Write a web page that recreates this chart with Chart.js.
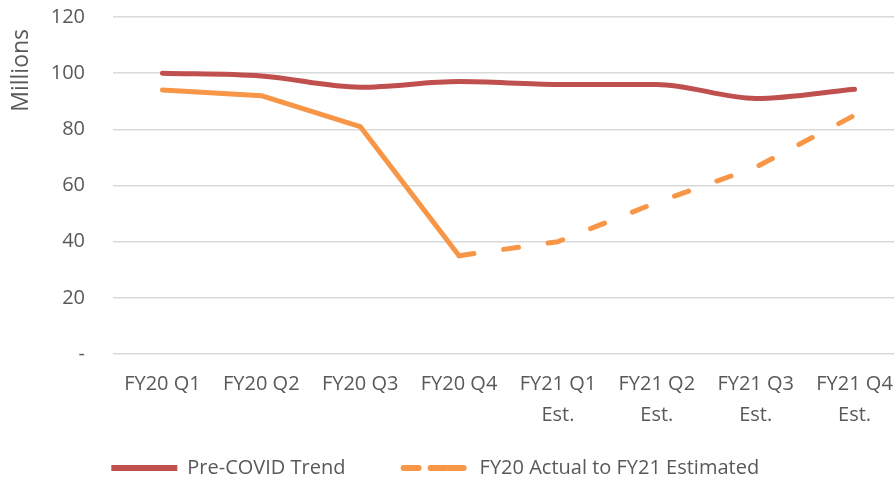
<!DOCTYPE html>
<html><head><meta charset="utf-8">
<script src="https://cdn.jsdelivr.net/npm/chart.js@4"></script>
<style>html,body{margin:0;padding:0;overflow:hidden;background:#fff}#wrap{width:904px;height:478px}</style>
</head><body><div id="wrap"><canvas id="c" width="904" height="478"></canvas></div>
<script>
const categories = [["FY20 Q1"],["FY20 Q2"],["FY20 Q3"],["FY20 Q4"],["FY21 Q1","Est."],["FY21 Q2","Est."],["FY21 Q3","Est."],["FY21 Q4","Est."]];
const preCovid = [100, 99, 95, 97, 96, 96, 91, 94.3];
const actualEst = [94, 92, 81, 35, 40, 54, 66.5, 85];
const seriesNames = ["Pre-COVID Trend", "FY20 Actual to FY21 Estimated"];
const yTicks = [0, 20, 40, 60, 80, 100, 120];

const RED = "#C0504D", ORANGE = "#F79646", TXT = "#595959";
const FONT = "'Open Sans', sans-serif";
const lastActual = 3;
const DASH = [15, 30];

new Chart(document.getElementById("c"), {
  type: "line",
  data: {
    labels: categories,
    datasets: [
      { label: seriesNames[0], data: preCovid, borderColor: RED, backgroundColor: RED,
        borderWidth: 5, tension: 0.4, cubicInterpolationMode: "monotone", pointRadius: 0, borderCapStyle: "round", borderJoinStyle: "round" },
      { label: seriesNames[1], data: actualEst, borderColor: ORANGE, backgroundColor: ORANGE,
        borderWidth: 5, tension: 0, pointRadius: 0, borderCapStyle: "round", borderJoinStyle: "round",
        segment: { borderDash: ctx => ctx.p0DataIndex >= lastActual ? DASH : undefined } }
    ]
  },
  options: {
    responsive: false, animation: false,
    layout: { padding: { left: 8, right: 0, top: 17, bottom: -10 } },
    scales: {
      x: {
        offset: true,
        grid: { display: false, drawTicks: false },
        border: { display: false },
        ticks: { color: TXT, font: { family: FONT, size: 20, lineHeight: 1.55 }, padding: 15, maxRotation: 0, autoSkip: false },
        afterFit: s => { s.height = 103; s.paddingLeft = 0; s.paddingRight = 0; }
      },
      y: {
        min: 0, max: 120,
        afterBuildTicks: axis => { axis.ticks = yTicks.map(v => ({ value: v })); },
        grid: { color: "#d9d9d9", lineWidth: 1.5, drawTicks: false },
        border: { display: false },
        ticks: { color: TXT, font: { family: FONT, size: 20 }, padding: 28,
          callback: v => v === 0 ? "-" : String(v) },
        title: { display: true, text: "Millions  ", align: "end", color: TXT, font: { family: FONT, size: 23 }, padding: { top: 0, bottom: 15 } },
        afterFit: s => { s.width = 105; s.paddingTop = 0; s.paddingBottom = 0; }
      }
    },
    plugins: {
      tooltip: { enabled: false },
      legend: {
        position: "bottom",
        labels: {
          color: TXT, font: { family: FONT, size: 20 }, boxWidth: 66, boxHeight: 0, padding: 1,
          generateLabels: chart => chart.data.datasets.map((ds, i) => ({
            text: ds.label + (i === 0 ? "           " : "        "), fillStyle: ds.borderColor, strokeStyle: ds.borderColor,
            lineWidth: 6, lineCap: "round", lineDash: i === 1 ? DASH : [], hidden: false, datasetIndex: i, fontColor: TXT
          }))
        }
      }
    }
  }
});
</script></body></html>
